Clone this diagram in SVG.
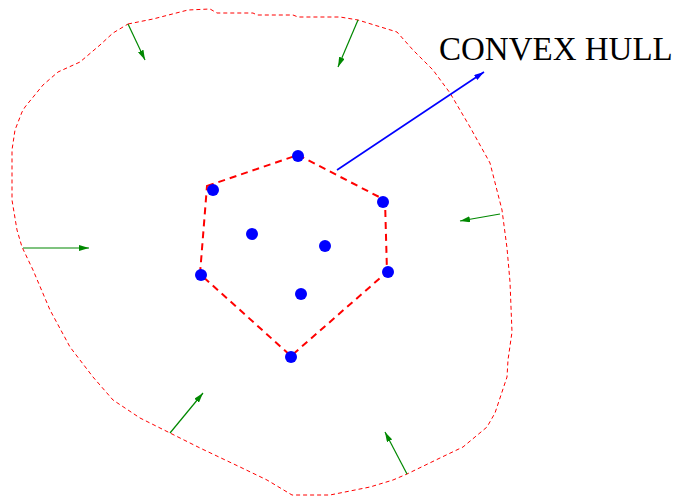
<svg xmlns="http://www.w3.org/2000/svg" width="676" height="498" viewBox="0 0 676 498">
<style>
.outer{fill:none;stroke:#ff0000;stroke-width:1;stroke-dasharray:4 3}
.hull{fill:none;stroke:#ff0000;stroke-width:2;stroke-dasharray:7 5}
.g{stroke:#008800;stroke-width:1.2;fill:none}
.b{stroke:#0000ff;stroke-width:1.6;fill:none}
.pt{fill:#0000ff}
.lbl{font-family:"Liberation Serif",serif;font-size:33px;fill:#000}
</style>
<defs>
<marker id="ag" viewBox="0 0 10 6" refX="10" refY="3" markerWidth="10" markerHeight="6" markerUnits="userSpaceOnUse" orient="auto"><path d="M0,0 L10,3 L0,6 Z" fill="#008800"/></marker>
<marker id="ab" viewBox="0 0 10 6" refX="10" refY="3" markerWidth="10" markerHeight="6" markerUnits="userSpaceOnUse" orient="auto"><path d="M0,0 L10,3 L0,6 Z" fill="#0000ff"/></marker>
</defs>
<g id="outer-boundary">
<path class="outer" d="M128,24 L153,19 L188,10 L210,9 L217,13 L253,13 L257,15 L293,15 L298,17 L340,17 L358,20 L397,32 L413,50 L433,70 L450,93 L470,127 L490,163 L502,210 L507,248 L510,282 L512,332 L508,360 L507,377 L495,413 L487,427 L463,447 L440,458 L407,474 L393,480 L370,487 L330,495 L292,495 L267,480 L240,467 L200,448 L170,433 L140,418 L113,400 L93,377 L70,347 L50,310 L33,270 L22,247 L17,230 L12,200 L12,150 L15,130 L22,112 L25,107 L43,85 L58,72 L80,62 L100,45 L113,33 Z"/>
</g>
<g id="convex-hull">
<path class="hull" d="M207,186 L298,155 L385,200 L387,272 L291,356 L200,274 Z"/>
</g>
<g id="points">
<circle class="pt" cx="298" cy="156" r="6"/>
<circle class="pt" cx="213" cy="190" r="6"/>
<circle class="pt" cx="383" cy="202" r="6"/>
<circle class="pt" cx="252" cy="234" r="6"/>
<circle class="pt" cx="325" cy="246" r="6"/>
<circle class="pt" cx="201" cy="275" r="6"/>
<circle class="pt" cx="388" cy="272" r="6"/>
<circle class="pt" cx="301" cy="294" r="6"/>
<circle class="pt" cx="291" cy="357" r="6"/>
</g>
<g id="connectors">
<line class="g" x1="128" y1="24" x2="145" y2="60" marker-end="url(#ag)"/>
<line class="g" x1="358" y1="20" x2="338" y2="67" marker-end="url(#ag)"/>
<line class="g" x1="500" y1="214" x2="460" y2="221" marker-end="url(#ag)"/>
<line class="g" x1="23" y1="248" x2="89" y2="248" marker-end="url(#ag)"/>
<line class="g" x1="170" y1="433" x2="203" y2="393" marker-end="url(#ag)"/>
<line class="g" x1="407" y1="474" x2="385" y2="432" marker-end="url(#ag)"/>
<line class="b" x1="337" y1="170" x2="484" y2="72" marker-end="url(#ab)"/>
</g>
<g id="label">
<text class="lbl" x="439" y="60">CONVEX HULL</text>
</g>
</svg>
